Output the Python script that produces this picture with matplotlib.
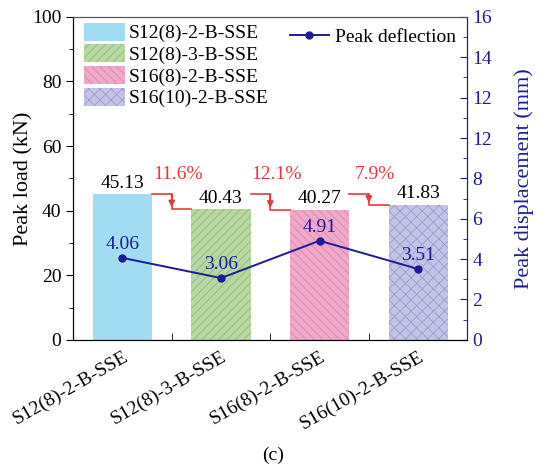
import matplotlib.pyplot as plt
from matplotlib.ticker import MultipleLocator, FixedLocator

# data
specimens = ["S12(8)-2-B-SSE", "S12(8)-3-B-SSE", "S16(8)-2-B-SSE", "S16(10)-2-B-SSE"]
peak_load = [45.13, 40.43, 40.27, 41.83]
peak_disp = [4.06, 3.06, 4.91, 3.51]
drop_labels = ["11.6%", "12.1%", "7.9%"]
disp_ticks = [0, 2, 4, 6, 8, 10, 12, 14, 16]
disp_ticklabels = ["0", "2", "4", "6", "8", "12", "12", "14", "16"]

plt.rcParams["font.family"] = ["Liberation Serif", "DejaVu Serif"]
plt.rcParams["font.size"] = 14
plt.rcParams["hatch.linewidth"] = 0.6

face = ["#a2dcf2", "#b8d7a1", "#efa8c8", "#c3c3e5"]
hatch_col = ["#a2dcf2", "#8fb97a", "#d987ad", "#9d9dcf"]
hatches = ["", "////", "\\\\\\\\", "xxx"]
navy = "#1c1c96"
red = "#e8383a"

fig = plt.figure(figsize=(5.46, 4.70), dpi=100)
ax = fig.add_axes([0.134, 0.277, 0.722, 0.687])
x = list(range(len(specimens)))

for i in x:
    ax.bar(i, peak_load[i], width=0.6, color=face[i], edgecolor=hatch_col[i],
           hatch=hatches[i], linewidth=0, label=specimens[i], zorder=2)
    ax.text(i, peak_load[i] + 3.4, "%.2f" % peak_load[i], ha="center", va="center",
            fontsize=14, zorder=5)

# red step arrows, all measured from the first specimen
ref = peak_load[0]
for i in range(len(specimens) - 1):
    h1 = peak_load[i + 1]
    ax.plot([i + 0.3, i + 0.5, i + 0.5, i + 0.7], [ref, ref, h1, h1], color=red, lw=1.2, zorder=3)
    ax.annotate("", xy=(i + 0.5, h1 + 0.6), xytext=(i + 0.5, ref),
                arrowprops=dict(arrowstyle="-|>", color=red, lw=1.2, mutation_scale=9,
                                shrinkA=0, shrinkB=0), zorder=3)
    ax.text(i + 0.56, 51.1, drop_labels[i], color=red, ha="center", va="center", fontsize=14)

ax.set_xlim(-0.5, 3.5)
ax.set_ylim(0, 100)
ax.set_ylabel("Peak load (kN)", fontsize=16, labelpad=-1)
ax.yaxis.set_major_locator(MultipleLocator(20))
ax.yaxis.set_minor_locator(MultipleLocator(10))
ax.set_xticks(x)
ax.set_xticklabels(specimens, rotation=30, ha="right", va="top", rotation_mode="anchor")
ax.xaxis.set_minor_locator(FixedLocator([0.5, 1.5, 2.5]))
ax.tick_params(axis="x", which="both", direction="in", length=5, pad=6)
ax.tick_params(axis="y", which="major", direction="out", length=5)
ax.tick_params(axis="y", which="minor", direction="out", length=3)
ax.spines["top"].set_color("#555555")

ax.legend(loc="upper left", bbox_to_anchor=(0.012, 1.0), frameon=False, handlelength=2.1,
          handleheight=1.05, labelspacing=0.1, handletextpad=0.2, borderaxespad=0.0,
          borderpad=0.3, fontsize=14)

# right axis: peak displacement
ax2 = ax.twinx()
ax2.plot(x, peak_disp, color=navy, lw=1.4, marker="o", markersize=5,
         markerfacecolor=navy, markeredgecolor=navy, label="Peak deflection", zorder=4)
for i in x:
    ax2.text(i, peak_disp[i] + 0.68, "%.2f" % peak_disp[i], color=navy, ha="center",
             va="center", fontsize=14)
ax2.set_ylim(0, 16)
ax2.set_yticks(disp_ticks)
ax2.set_yticklabels(disp_ticklabels)
ax2.yaxis.set_minor_locator(MultipleLocator(1))
ax2.tick_params(axis="y", which="major", direction="in", length=5, colors=navy)
ax2.tick_params(axis="y", which="minor", direction="in", length=3, colors=navy)
ax2.spines["right"].set_color(navy)
ax2.spines["top"].set_color("#555555")
ax2.set_ylabel("Peak displacement (mm)", color=navy, fontsize=16, labelpad=16)
ax2.legend(loc="upper right", frameon=False, handlelength=2.0, handletextpad=0.3,
           borderaxespad=0.2, fontsize=14)

fig.text(0.5, 0.032, "(c)", ha="center", va="center", fontsize=14)

fig.savefig("out.png", dpi=100)
